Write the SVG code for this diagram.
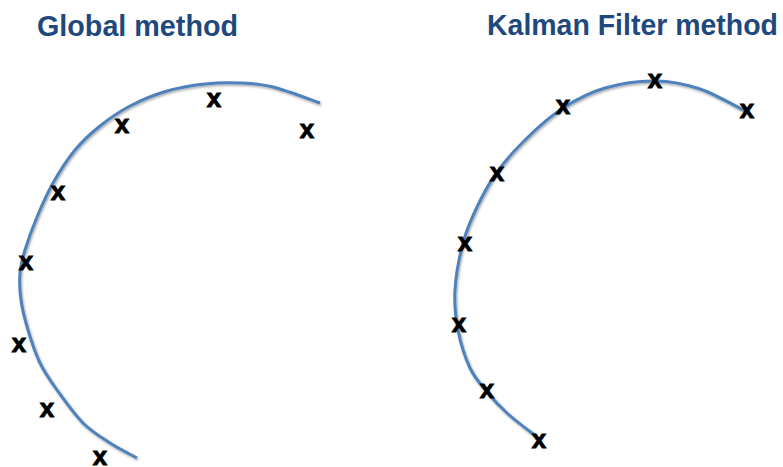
<svg xmlns="http://www.w3.org/2000/svg" width="783" height="467" viewBox="0 0 783 467">
<defs>
<style>
.title{font-family:"Liberation Sans",Arial,sans-serif;font-weight:bold;font-size:29px;fill:#1F497D}
.mk{font-family:"Liberation Sans",Arial,sans-serif;font-weight:bold;font-size:26px;fill:#000;stroke:#000;stroke-width:0.9;text-anchor:middle}
.arc{fill:none;stroke:#4F81BD;stroke-width:3;stroke-linecap:butt;filter:url(#sh)}
</style>
<filter id="sh" x="-10%" y="-10%" width="120%" height="120%">
<feDropShadow dx="1" dy="1.5" stdDeviation="1" flood-color="#000" flood-opacity="0.35"/>
</filter>
</defs>
<rect width="783" height="467" fill="#fff"/>
<g id="titles">
<text id="title-global" class="title" x="37" y="36" textLength="201" lengthAdjust="spacingAndGlyphs">Global method</text>
<text id="title-kalman" class="title" x="487" y="35" textLength="291" lengthAdjust="spacingAndGlyphs">Kalman Filter method</text>
</g>
<g id="curves">
<path id="curve-global" class="arc" d="M137,458 C132.5,455.5 119,448.83 110,443 C101,437.17 91.83,431.83 83,423 C74.17,414.17 64.17,400 57,390 C49.83,380 44.83,373 40,363 C35.17,353 31.17,340.5 28,330 C24.83,319.5 22.33,309.5 21,300 C19.67,290.5 19.33,281.33 20,273 C20.67,264.67 22.17,259.33 25,250 C27.83,240.67 32.33,228.17 37,217 C41.67,205.83 46.67,194.17 53,183 C59.33,171.83 67.17,159.5 75,150 C82.83,140.5 90.83,133.33 100,126 C109.17,118.67 118.83,111.83 130,106 C141.17,100.17 154.5,94.67 167,91 C179.5,87.33 192.83,85.33 205,84 C217.17,82.67 228.67,82.5 240,83 C251.33,83.5 259.67,83.67 273,87 C286.33,90.33 312.17,100.33 320,103"/>
<path id="curve-kalman" class="arc" d="M537,437 C532.17,433.17 516.33,421.5 508,414 C499.67,406.5 493.33,399.67 487,392 C480.67,384.33 474.83,378.33 470,368 C465.17,357.67 460.5,343 458,330 C455.5,317 454.17,304.5 455,290 C455.83,275.5 459.33,256.83 463,243 C466.67,229.17 471.33,218.83 477,207 C482.67,195.17 488.67,183.5 497,172 C505.33,160.5 516,148.67 527,138 C538,127.33 550,116.33 563,108 C576,99.67 589.67,92.5 605,88 C620.33,83.5 639.17,80.83 655,81 C670.83,81.17 684.67,83.83 700,89 C715.33,94.17 739.17,108.17 747,112"/>
</g>
<g id="marks-global">
<text class="mk" x="214" y="106.5">x</text>
<text class="mk" x="307" y="138">x</text>
<text class="mk" x="122" y="133">x</text>
<text class="mk" x="58" y="199.5">x</text>
<text class="mk" x="26" y="269.5">x</text>
<text class="mk" x="19" y="352">x</text>
<text class="mk" x="47" y="417">x</text>
<text class="mk" x="100" y="464.5">x</text>
</g>
<g id="marks-kalman">
<text class="mk" x="655" y="87.5">x</text>
<text class="mk" x="563" y="114">x</text>
<text class="mk" x="497" y="180.5">x</text>
<text class="mk" x="465" y="250.5">x</text>
<text class="mk" x="459" y="332">x</text>
<text class="mk" x="487" y="398">x</text>
<text class="mk" x="539" y="448">x</text>
<text class="mk" x="747" y="118">x</text>
</g>
</svg>
